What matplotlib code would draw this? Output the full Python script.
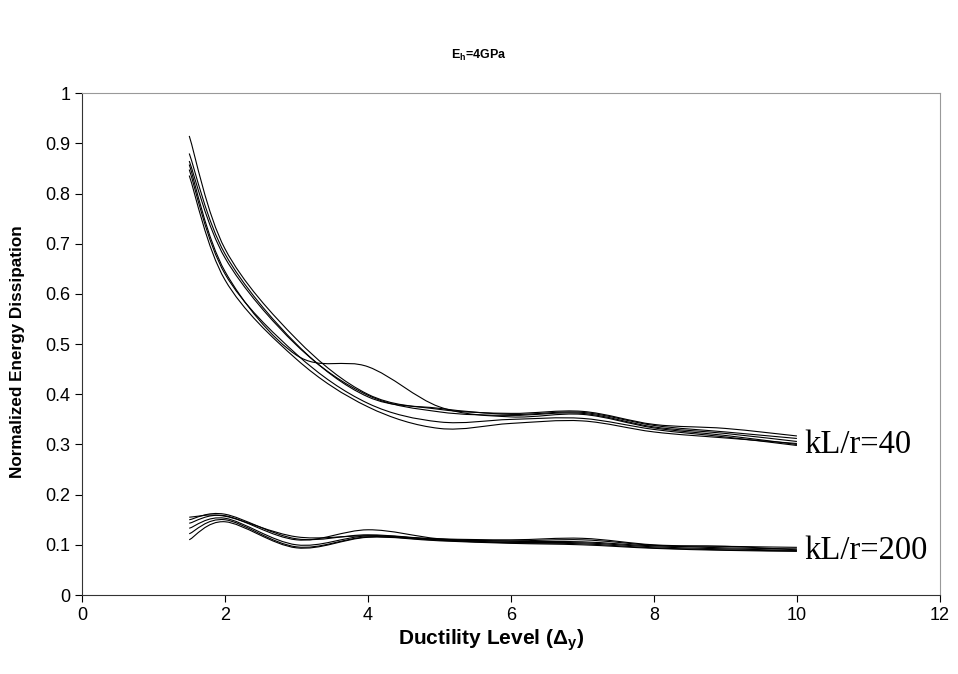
import matplotlib
matplotlib.use("Agg")
import matplotlib.pyplot as plt
import numpy as np
from matplotlib.path import Path
from matplotlib.patches import PathPatch

# ductility levels where each run was sampled
ductility = [1.5, 2, 3, 4, 5, 6, 7, 8, 9, 10]

# kL/r = 40 runs
slender40 = [
    [0.915, 0.690, 0.510, 0.400, 0.370, 0.362, 0.366, 0.340, 0.332, 0.317],
    [0.880, 0.680, 0.500, 0.395, 0.372, 0.360, 0.364, 0.338, 0.325, 0.312],
    [0.865, 0.672, 0.498, 0.398, 0.365, 0.358, 0.362, 0.335, 0.322, 0.306],
    [0.858, 0.645, 0.478, 0.455, 0.375, 0.355, 0.360, 0.333, 0.318, 0.300],
    [0.848, 0.640, 0.480, 0.382, 0.345, 0.350, 0.352, 0.330, 0.315, 0.298],
    [0.836, 0.628, 0.470, 0.375, 0.332, 0.342, 0.347, 0.325, 0.313, 0.302],
]

# kL/r = 200 runs
slender200 = [
    [0.155, 0.157, 0.116, 0.118, 0.112, 0.110, 0.113, 0.100, 0.097, 0.095],
    [0.150, 0.161, 0.112, 0.120, 0.111, 0.108, 0.110, 0.099, 0.094, 0.092],
    [0.143, 0.158, 0.110, 0.130, 0.112, 0.107, 0.106, 0.098, 0.097, 0.090],
    [0.133, 0.153, 0.100, 0.118, 0.110, 0.105, 0.104, 0.096, 0.092, 0.089],
    [0.122, 0.150, 0.096, 0.116, 0.109, 0.104, 0.102, 0.094, 0.090, 0.088],
    [0.110, 0.146, 0.094, 0.115, 0.108, 0.103, 0.100, 0.093, 0.089, 0.087],
]

x_ticks = [0, 2, 4, 6, 8, 10, 12]
y_ticks = [0, 0.1, 0.2, 0.3, 0.4, 0.5, 0.6, 0.7, 0.8, 0.9, 1]


def smooth_path(xs, ys):
    """Excel-style smoothed line: cubic Bezier through the points."""
    pts = np.column_stack([xs, ys]).astype(float)
    n = len(pts)
    verts = [pts[0]]
    codes = [Path.MOVETO]
    for i in range(n - 1):
        p0 = pts[max(i - 1, 0)]
        p1 = pts[i]
        p2 = pts[i + 1]
        p3 = pts[min(i + 2, n - 1)]
        c1 = p1 + (p2 - p0) / 6.0
        c2 = p2 - (p3 - p1) / 6.0
        verts += [c1, c2, p2]
        codes += [Path.CURVE4] * 3
    return Path(verts, codes)


plt.rcParams["font.family"] = ["Liberation Sans", "DejaVu Sans"]
plt.rcParams["mathtext.fontset"] = "custom"
plt.rcParams["mathtext.rm"] = "Liberation Sans"
plt.rcParams["mathtext.bf"] = "Liberation Sans:bold"
plt.rcParams["mathtext.it"] = "Liberation Sans:italic"

fig = plt.figure(figsize=(9.58, 6.74), dpi=100)
ax = fig.add_axes([0.0856, 0.1172, 0.8955, 0.7444])

for series in slender40 + slender200:
    ax.add_patch(PathPatch(smooth_path(ductility, series), fill=False,
                           edgecolor="black", linewidth=0.8))

ax.text(10.1, slender40[3][-1], "kL/r=40", family="Liberation Serif",
        fontsize=23.5, va="center", ha="left")
ax.text(10.1, slender200[3][-1], "kL/r=200", family="Liberation Serif",
        fontsize=23.5, va="center", ha="left")

ax.set_xlim(0, 12)
ax.set_ylim(0, 1)
ax.set_xticks(x_ticks)
ax.set_yticks(y_ticks)
ax.set_yticklabels([f"{v:g}" for v in y_ticks])
ax.tick_params(direction="out", length=5, width=0.8, labelsize=13, colors="black")
ax.spines["top"].set_color("#999999")
ax.spines["right"].set_color("#999999")
ax.spines["left"].set_color("#333333")
ax.spines["bottom"].set_color("#333333")

ax.set_xlabel(r"Ductility Level ($\mathbf{\Delta_y}$)", fontsize=15,
              fontweight="bold")
ax.xaxis.set_label_coords(0.477, -0.064)
ax.set_ylabel("Normalized Energy Dissipation", fontsize=12.3,
              fontweight="bold")
ax.yaxis.set_label_coords(-0.066, 0.485)
fig.text(0.5, 0.918, r"$\mathbf{E_h}$=4GPa", fontsize=9, fontweight="bold",
         ha="center", va="center")

fig.savefig("out.png", dpi=100)
